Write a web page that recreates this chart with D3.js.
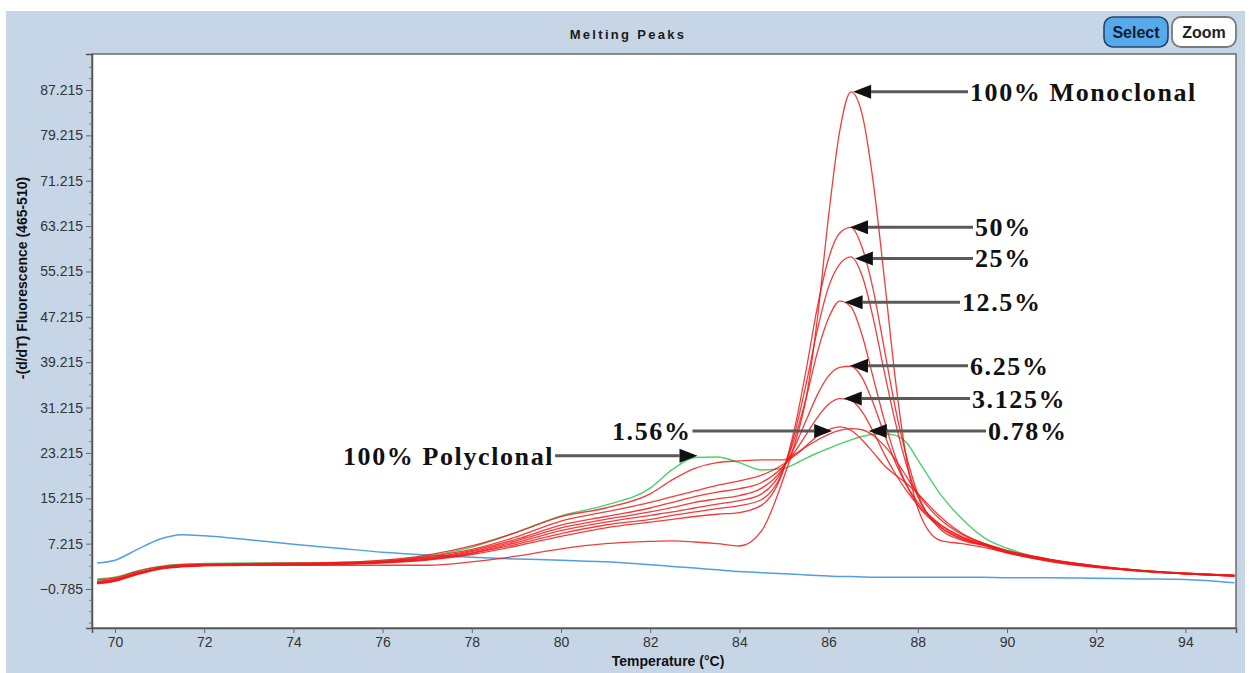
<!DOCTYPE html>
<html>

<head>
    <meta charset="UTF-8">
    <title>Melting Peaks</title>
    <style>
        body { margin: 0; background: #fff; }
        svg { display: block; }
    </style>
</head>

<body>
    <script src="https://cdn.jsdelivr.net/npm/d3@7"></script>
    <svg id="chart" width="1250" height="673"></svg>

    <script>
        // temperature grid (°C) shared by every curve
        const temps = [69.6, 70, 70.5, 71, 71.5, 72, 73, 74, 75, 76, 77, 78, 79, 80, 81, 82, 82.5, 83, 83.5, 84,
            84.5, 85, 85.25, 85.5, 85.75, 86, 86.25, 86.5, 86.75, 87, 87.25, 87.5, 87.75, 88, 88.5, 89, 89.5, 90,
            91, 92, 93, 94, 95.1];

        // -(d/dT) fluorescence
        const mono100 = [0.2, 0.6, 1.8, 2.7, 3.1, 3.3, 3.4, 3.4, 3.4, 3.4, 3.4, 4.0, 5.0, 6.3, 7.2, 7.6, 7.7, 7.5, 7.2, 6.8,
            9.5, 19.0, 25.0, 33.0, 47.0, 65.0, 80.0, 86.9, 83.0, 71.0, 54.0, 36.0, 22.0, 13.5, 7.8, 7.2, 6.5, 5.6,
            4.0, 3.0, 2.4, 1.9, 1.5];
        const mono50 = [0.1, 0.6, 1.8, 2.8, 3.2, 3.4, 3.5, 3.5, 3.6, 3.8, 4.3, 5.3, 6.8, 8.5, 10.0, 11.0, 11.5, 12.0, 12.4, 12.7,
            14.0, 20.5, 28.0, 38.0, 49.0, 57.5, 62.0, 63.0, 59.5, 52.0, 41.5, 31.0, 22.5, 16.0, 9.8, 7.8, 6.8, 5.6,
            4.1, 3.1, 2.4, 1.9, 1.5];
        const mono25 = [0.3, 0.8, 1.9, 2.8, 3.2, 3.4, 3.5, 3.5, 3.6, 3.9, 4.4, 5.5, 7.1, 9.0, 10.5, 11.5, 12.2, 12.8, 13.4, 13.9,
            15.0, 20.5, 27.0, 35.5, 45.0, 52.5, 56.5, 57.8, 54.5, 47.0, 37.5, 28.5, 21.0, 15.5, 10.2, 8.0, 6.9, 5.7,
            4.2, 3.1, 2.4, 1.9, 1.5];
        const mono12 = [0.2, 0.7, 1.9, 2.8, 3.2, 3.4, 3.5, 3.5, 3.6, 3.9, 4.5, 5.6, 7.4, 9.5, 11.0, 12.2, 12.8, 13.5, 14.2, 14.8,
            16.0, 20.8, 26.0, 33.0, 41.0, 47.0, 50.0, 49.0, 44.0, 36.5, 29.0, 22.5, 17.5, 14.0, 10.2, 8.1, 7.0, 5.7,
            4.2, 3.1, 2.4, 1.9, 1.5];
        const mono6 = [0.4, 0.9, 2.0, 2.9, 3.3, 3.4, 3.5, 3.6, 3.7, 4.0, 4.6, 5.8, 7.7, 10.0, 11.5, 12.8, 13.6, 14.5, 15.1, 15.7,
            17.0, 20.8, 24.5, 29.0, 33.5, 36.8, 38.3, 38.5, 36.5, 32.0, 26.5, 21.5, 17.5, 14.5, 10.6, 8.3, 7.0, 5.8,
            4.2, 3.2, 2.4, 1.9, 1.6];
        const mono3 = [0.3, 0.8, 2.0, 2.9, 3.3, 3.5, 3.6, 3.6, 3.7, 4.0, 4.7, 6.0, 8.0, 10.5, 12.0, 13.5, 14.5, 15.5, 16.3, 16.9,
            18.0, 21.0, 23.5, 26.5, 29.5, 31.8, 32.8, 32.5, 30.5, 27.0, 23.0, 19.5, 16.5, 14.0, 10.6, 8.4, 7.1, 5.8,
            4.3, 3.2, 2.5, 2.0, 1.6];
        const mono1_56 = [0.5, 1.0, 2.1, 3.0, 3.4, 3.5, 3.6, 3.7, 3.8, 4.1, 4.9, 6.2, 8.4, 11.2, 12.8, 14.5, 15.5, 16.5, 17.5, 18.3,
            19.3, 21.3, 22.8, 24.5, 26.2, 27.3, 27.8, 27.2, 25.5, 23.3, 21.0, 19.3, 17.8, 16.0, 12.0, 9.0, 7.2, 6.0,
            4.4, 3.3, 2.5, 2.0, 1.6];
        const mono0_78 = [0.8, 1.2, 2.3, 3.1, 3.5, 3.6, 3.7, 3.8, 3.9, 4.3, 5.2, 6.8, 9.2, 12.0, 13.5, 16.0, 18.5, 20.5, 21.5, 21.8,
            22.0, 22.0, 23.0, 24.3, 25.5, 26.5, 27.2, 27.5, 27.3, 26.3, 24.5, 22.0, 19.0, 16.0, 11.5, 8.8, 7.2, 6.0,
            4.4, 3.3, 2.5, 2.0, 1.6];
        const poly100 = [1.0, 1.3, 2.4, 3.2, 3.6, 3.7, 3.8, 3.8, 3.9, 4.2, 5.0, 6.6, 9.2, 12.1, 14.0, 17.0, 20.3, 22.4, 22.5, 21.5,
            20.2, 20.5, 21.3, 22.3, 23.2, 24.0, 24.8, 25.5, 26.1, 26.5, 26.6, 26.3, 25.0, 22.0, 16.0, 11.5, 8.2, 6.4,
            4.3, 3.2, 2.3, 1.9, 1.6];
        const blank = [3.8, 4.3, 6.2, 8.0, 8.8, 8.6, 7.9, 7.1, 6.4, 5.7, 5.2, 4.8, 4.5, 4.3, 4.0, 3.5, 3.2, 2.9, 2.6, 2.3,
            2.1, 1.9, 1.8, 1.7, 1.6, 1.5, 1.4, 1.4, 1.35, 1.3, 1.3, 1.3, 1.3, 1.3, 1.3, 1.3, 1.3, 1.2,
            1.2, 1.1, 1.0, 0.9, 0.3];

        const redSeries = [mono100, mono50, mono25, mono12, mono6, mono3, mono1_56, mono0_78];

        const xTicks = [70, 72, 74, 76, 78, 80, 82, 84, 86, 88, 90, 92, 94];
        const yTicks = [-0.785, 7.215, 15.215, 23.215, 31.215, 39.215, 47.215, 55.215, 63.215, 71.215, 79.215, 87.215];

        // labels and the point (temp, value) their arrow points at
        const labels = ["100% Monoclonal", "50%", "25%", "12.5%", "6.25%", "3.125%", "0.78%", "1.56%", "100% Polyclonal"];
        const labelTemps = [86.55, 86.48, 86.59, 86.36, 86.48, 86.34, 86.9, 86.08, 83.06];
        const labelVals = [86.9, 63.0, 57.5, 49.8, 38.6, 32.8, 27.1, 27.1, 22.7];
        const labelX = [970, 975, 975, 962, 970, 972, 988, 612, 343];

        const svg = d3.select("#chart");
        const W = 1250, H = 673;
        const m = { left: 92, right: 1236, top: 54, bottom: 628 };

        const x = d3.scaleLinear().domain([69.484, 95.135]).range([m.left, m.right]);
        const y = d3.scaleLinear().domain([-7.663, 93.564]).range([m.bottom, m.top]);

        // panel background
        svg.append("rect").attr("x", 6).attr("y", 11).attr("width", W - 11).attr("height", H - 11)
            .attr("fill", "#c7d6e7");

        svg.append("text").attr("x", 628).attr("y", 39).attr("text-anchor", "middle")
            .attr("font-family", "Liberation Sans, Arial, sans-serif").attr("font-weight", "bold")
            .attr("font-size", 13).attr("letter-spacing", 2.3).attr("fill", "#1a1a1a")
            .text("Melting Peaks");

        // buttons
        const btn = svg.append("g");
        btn.append("rect").attr("x", 1104).attr("y", 17).attr("width", 64).attr("height", 30).attr("rx", 9)
            .attr("fill", "#58a9ea").attr("stroke", "#24456b").attr("stroke-width", 1.6);
        btn.append("text").attr("x", 1136).attr("y", 38).attr("text-anchor", "middle")
            .attr("font-family", "Liberation Sans, Arial, sans-serif").attr("font-weight", "bold")
            .attr("font-size", 16).attr("fill", "#0e1d33").text("Select");
        btn.append("rect").attr("x", 1172).attr("y", 17).attr("width", 64).attr("height", 30).attr("rx", 9)
            .attr("fill", "#fff").attr("stroke", "#7a7a7a").attr("stroke-width", 1.8);
        btn.append("text").attr("x", 1204).attr("y", 38).attr("text-anchor", "middle")
            .attr("font-family", "Liberation Sans, Arial, sans-serif").attr("font-weight", "bold")
            .attr("font-size", 16).attr("fill", "#222").text("Zoom");

        // plot area
        svg.append("rect").attr("x", m.left).attr("y", m.top).attr("width", m.right - m.left).attr("height", m.bottom - m.top)
            .attr("fill", "#fff").attr("stroke", "#6b6b6b").attr("stroke-width", 1.5);

        // axes
        const yAxis = d3.axisLeft(y).tickValues(yTicks).tickSize(6).tickFormat(d3.format(".3f"));
        const gy = svg.append("g").attr("transform", `translate(${m.left},0)`).call(yAxis);
        const yMinor = d3.range(-6.785, 93, 2).filter(v => !yTicks.some(t => Math.abs(t - v) < 0.01));
        svg.append("g").selectAll("line").data(yMinor).join("line")
            .attr("x1", m.left - 3).attr("x2", m.left).attr("y1", d => y(d)).attr("y2", d => y(d))
            .attr("stroke", "#777").attr("stroke-width", 1);

        const xAxis = d3.axisBottom(x).tickValues(xTicks).tickSize(5).tickFormat(d3.format("d"));
        const gx = svg.append("g").attr("transform", `translate(0,${m.bottom})`).call(xAxis);

        [gx, gy].forEach(g => {
            g.select(".domain").attr("stroke", "#555").attr("stroke-width", 1.5);
            g.selectAll(".tick line").attr("stroke", "#666");
            g.selectAll(".tick text").attr("font-family", "Liberation Sans, Arial, sans-serif")
                .attr("font-size", 14).attr("fill", "#333");
        });
        gx.selectAll(".tick text").attr("dy", "0.75em");

        svg.append("text").attr("x", 668).attr("y", 666).attr("text-anchor", "middle")
            .attr("font-family", "Liberation Sans, Arial, sans-serif").attr("font-weight", "bold")
            .attr("font-size", 14).attr("fill", "#111").text("Temperature (°C)");

        svg.append("text").attr("transform", "translate(27,278) rotate(-90)").attr("text-anchor", "middle")
            .attr("font-family", "Liberation Sans, Arial, sans-serif").attr("font-weight", "bold")
            .attr("font-size", 14).attr("fill", "#111").text("-(d/dT) Fluorescence (465-510)");

        // curves
        const line = d3.line().curve(d3.curveMonotoneX)
            .x((d, i) => x(temps[i])).y(d => y(d));
        const plot = svg.append("g");

        plot.append("path").datum(blank).attr("d", line).attr("fill", "none")
            .attr("stroke", "#4f9fe4").attr("stroke-width", 1.5);
        plot.append("path").datum(poly100).attr("d", line).attr("fill", "none")
            .attr("stroke", "#4ed06a").attr("stroke-width", 1.4);
        plot.selectAll(".red").data(redSeries).join("path").attr("class", "red")
            .attr("d", line).attr("fill", "none")
            .attr("stroke", "#f01a1a").attr("stroke-width", 1.3).attr("stroke-opacity", 0.85);

        // annotations
        const ann = svg.append("g");
        labels.forEach((lab, i) => {
            const tx = x(labelTemps[i]), ty = y(labelVals[i]);
            const pointRight = labelX[i] < tx;
            const t = ann.append("text").attr("x", labelX[i]).attr("y", ty + 9)
                .attr("font-family", "Liberation Serif, Times New Roman, serif").attr("font-weight", "bold")
                .attr("font-size", 26).attr("letter-spacing", 1.6).attr("fill", "#111").text(lab);
            const bb = t.node().getBBox();
            const startX = pointRight ? bb.x + bb.width + 1 : labelX[i] - 2;
            const dir = pointRight ? 1 : -1;
            const headLen = 18;
            ann.append("line").attr("x1", startX).attr("y1", ty).attr("x2", tx - dir * headLen).attr("y2", ty)
                .attr("stroke", "#5a5a5a").attr("stroke-width", 3);
            ann.append("path")
                .attr("d", `M${tx},${ty} L${tx - dir * headLen},${ty - 7} L${tx - dir * headLen},${ty + 7} Z`)
                .attr("fill", "#111");
        });
    </script>

</body>

</html>
